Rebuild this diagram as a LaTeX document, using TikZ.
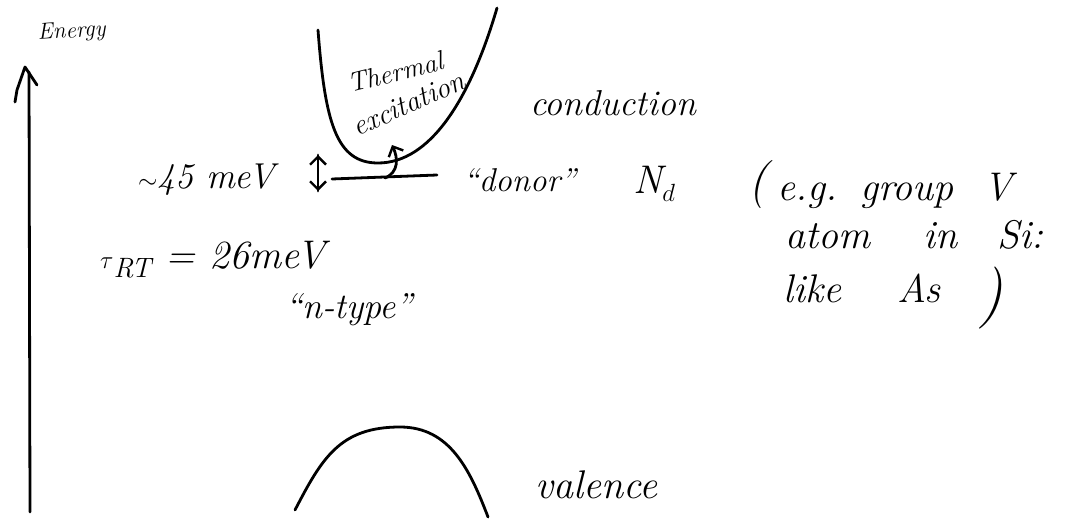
\documentclass[tikz,border=0pt]{standalone}
\usetikzlibrary{arrows.meta}
\begin{document}
\begin{tikzpicture}[x=1pt,y=-1pt,
  pen/.style={line width=2.8pt,line cap=round,line join=round},
  barb/.style={-{Straight Barb[length=8pt,width=16pt,line width=2.4pt]}},
  hand/.style={font=\fontsize{40}{44}\selectfont\itshape,inner sep=0pt,anchor=base west},
  fs/.style={font=\fontsize{#1}{#1}\selectfont\itshape}]
\useasboundingbox (0,0) rectangle (1078,524);

% energy axis with a hand-drawn head
\coordinate (axb) at (30,512);
\coordinate (axt) at (29,72);
\coordinate (axl) at (15,102);
\coordinate (axk) at (17,90);
\coordinate (axtip) at (25,67);
\coordinate (axr) at (37,85);
\draw[pen] (axb) -- (axt);
\draw[pen] (axl) -- (axk) -- (axtip) -- (axr);
\node[hand,fs=23,rotate=4] (energy) at (38,40) {Energy};

% conduction band
\draw[pen] (318,30) .. controls (325,122) and (336,163) .. (378,163)
           .. controls (430,163) and (470,100) .. (497,8);
\node[hand,fs=27,rotate=14] (therm) at (350,93) {Thermal};
\node[hand,fs=29,rotate=24] (excit) at (357,137) {excitation};
\node[hand,fs=36] (cond) at (530,116) {conduction};

% donor level and excitation into the band
\coordinate (dl) at (332,179);
\coordinate (dr) at (437,175);
\draw[pen] (dl) -- (dr);
\coordinate (ex0) at (385,178);
\coordinate (ex1) at (392,145);
\draw[pen,barb] (ex0) .. controls (399,172) and (398,158) .. (ex1);

% binding energy of the donor
\coordinate (ga) at (318,155);
\coordinate (gb) at (318,191);
\draw[pen,barb] (ga) -- (gb);
\draw[pen,barb] (gb) -- (ga);
\node[hand,fs=36] (gap) at (138,188) {$\sim$45 meV};

\node[hand,fs=33] (donor) at (463,191) {``donor''};
\node[hand,fs=40] (nd) at (633,193) {N$_d$};

% example dopant
\node[hand,fs=48] (lpar) at (748,196) {(};
\node[hand] (eg) at (777,200) {\makebox[83pt][l]{e.g.}\makebox[123pt][l]{group}V};
\node[hand] (atom) at (785,248) {\makebox[138pt][l]{atom}\makebox[74pt][l]{in}Si:};
\node[hand] (as) at (783,302) {\makebox[114pt][l]{like}As};
\node[hand,fs=62] (rpar) at (978,313) {)};

% thermal energy at room temperature
\node[hand] (kt) at (100,268) {$\tau$\raisebox{-9pt}{\fontsize{28}{28}\selectfont RT} = 26meV};
\node[hand,fs=36] (ntype) at (285,318) {``n-type''};

% valence band
\draw[pen] (295,510) .. controls (322,458) and (340,427) .. (400,427)
           .. controls (450,427) and (470,470) .. (488,517);
\node[hand] (val) at (535,498) {valence};
\end{tikzpicture}
\end{document}
